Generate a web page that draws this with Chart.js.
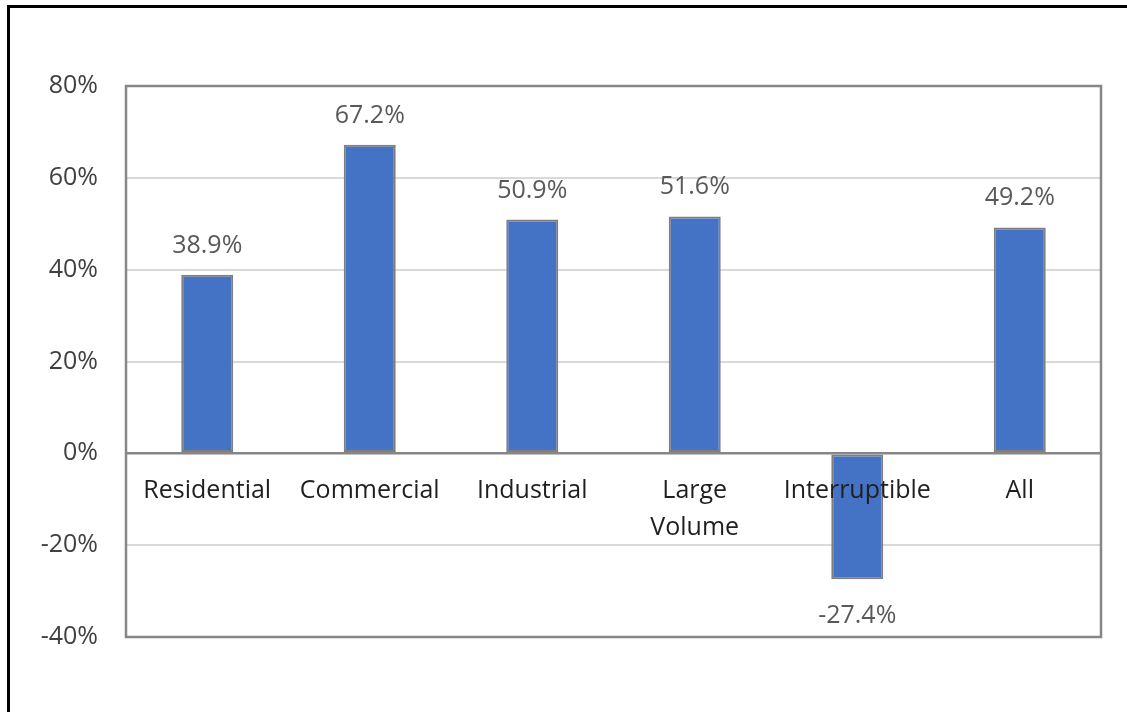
<!DOCTYPE html>
<html>
<head>
<meta charset="utf-8">
<title>Change by customer class</title>
<script src="https://cdn.jsdelivr.net/npm/chart.js@4/dist/chart.umd.min.js"></script>
<style>
  html, body { margin: 0; padding: 0; background: #fff; overflow: hidden; }
  #wrap { position: relative; width: 1127px; height: 712px; }
  #chart { position: absolute; left: 0; top: 0; }
  /* black frame: only left and top edges show inside the window */
  #frame { position: absolute; left: 7px; top: 5px; width: 1200px; height: 800px;
           border-left: 3px solid #000; border-top: 3px solid #000; pointer-events: none; }
</style>
</head>
<body>
<div id="wrap">
  <canvas id="chart" width="1127" height="712"></canvas>
  <div id="frame"></div>
</div>
<script>
// data
const categories = ['Residential', 'Commercial', 'Industrial', ['Large', 'Volume'], 'Interruptible', 'All'];
const changePct = [38.9, 67.2, 50.9, 51.6, -27.4, 49.2];
const yTicks = [-40, -20, 0, 20, 40, 60, 80];

const FONT = '"Open Sans", "Noto Sans", sans-serif';

// plot frame, category labels under the zero line and value labels
const decorations = {
  id: 'decorations',
  beforeDatasetsDraw(chart) {
    const { ctx, chartArea: a } = chart;
    ctx.save();
    ctx.strokeStyle = '#868686';
    ctx.lineWidth = 2.5;
    ctx.strokeRect(a.left, a.top, a.right - a.left, a.bottom - a.top);
    ctx.restore();
  },
  afterDatasetsDraw(chart) {
    const { ctx } = chart;
    const x = chart.scales.x;
    const y = chart.scales.y;
    const zero = y.getPixelForValue(0);
    ctx.save();
    ctx.font = '25px ' + FONT;
    ctx.textAlign = 'center';

    // category labels
    ctx.fillStyle = '#1f1f1f';
    ctx.textBaseline = 'middle';
    categories.forEach((c, i) => {
      const lines = Array.isArray(c) ? c : [c];
      const cx = x.getPixelForValue(i);
      lines.forEach((ln, k) => ctx.fillText(ln, cx, zero + 38 + k * 37));
    });

    // value labels
    ctx.fillStyle = '#595959';
    ctx.textBaseline = 'alphabetic';
    const meta = chart.getDatasetMeta(0);
    meta.data.forEach((bar, i) => {
      const v = changePct[i];
      const ty = v >= 0 ? bar.y - 22 : bar.y + 44;
      ctx.fillText(v.toFixed(1) + '%', bar.x, ty);
    });
    ctx.restore();
  }
};

new Chart(document.getElementById('chart'), {
  type: 'bar',
  data: {
    labels: categories.map(c => Array.isArray(c) ? c.join(' ') : c),
    datasets: [{
      data: changePct,
      backgroundColor: '#4472C4',
      borderColor: '#7f7f7f',
      borderWidth: 2,
      borderSkipped: false,
      barPercentage: 0.32,
      categoryPercentage: 1
    }]
  },
  options: {
    responsive: false,
    animation: false,
    layout: { padding: { top: 86, right: 26, bottom: 75, left: 0 } },
    plugins: {
      legend: { display: false },
      tooltip: { enabled: false }
    },
    scales: {
      x: { display: false },
      y: {
        min: -40,
        max: 80,
        afterFit(scale) { scale.width = 126; },
        afterBuildTicks(scale) { scale.ticks = yTicks.map(v => ({ value: v })); },
        border: { display: false },
        grid: {
          drawTicks: false,
          color: c => c.tick && c.tick.value === 0 ? '#868686' : '#d9d9d9',
          lineWidth: c => c.tick && c.tick.value === 0 ? 2.5 : 2
        },
        ticks: {
          padding: 28,
          color: '#404040',
          font: { family: FONT, size: 25 },
          callback: v => v + '%'
        }
      }
    }
  },
  plugins: [decorations]
});
</script>
</body>
</html>
